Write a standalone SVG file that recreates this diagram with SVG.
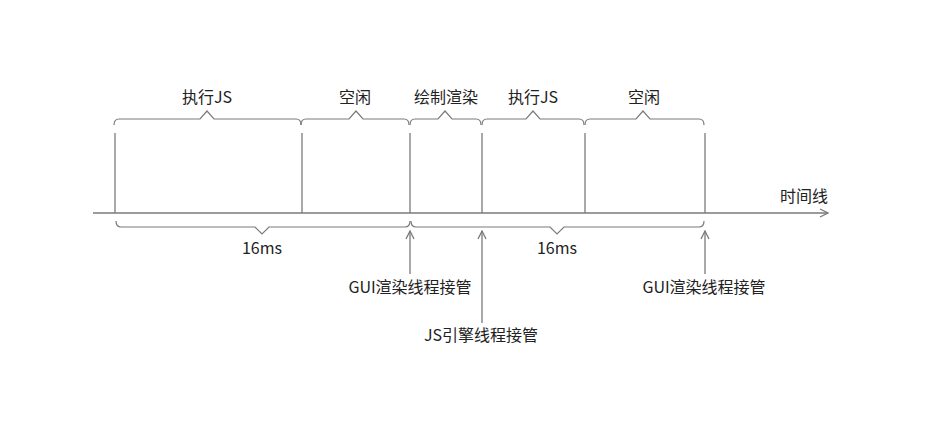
<svg xmlns="http://www.w3.org/2000/svg" width="942" height="421" viewBox="0 0 942 421">
<defs>
<style>
.ln{stroke:#7a7a7a;stroke-width:1.3;fill:none}
.br{stroke:#7a7a7a;stroke-width:1.2;fill:none}
.t{font-family:"Microsoft YaHei","Noto Sans CJK SC","Noto Sans",sans-serif;font-size:16px;fill:#222;text-anchor:middle}
</style>
<marker id="ah" viewBox="0 0 10 10" refX="9" refY="5" markerWidth="10" markerHeight="10" markerUnits="userSpaceOnUse" orient="auto">
<path d="M1,1 L9,5 L1,9" fill="none" stroke="#7a7a7a" stroke-width="1.3"/>
</marker>
</defs>
<rect width="942" height="421" fill="#fff"/>
<g id="connectors">
<line class="ln" x1="93" y1="213" x2="828" y2="213" marker-end="url(#ah)"/>
<line class="ln" x1="115" y1="133" x2="115" y2="213"/>
<line class="ln" x1="302" y1="133" x2="302" y2="213"/>
<line class="ln" x1="410" y1="133" x2="410" y2="213"/>
<line class="ln" x1="482" y1="133" x2="482" y2="213"/>
<line class="ln" x1="585" y1="133" x2="585" y2="213"/>
<line class="ln" x1="705" y1="133" x2="705" y2="213"/>
<line class="ln" x1="410" y1="274" x2="410" y2="231" marker-end="url(#ah)"/>
<line class="ln" x1="482" y1="323" x2="482" y2="231" marker-end="url(#ah)"/>
<line class="ln" x1="705" y1="274" x2="705" y2="231" marker-end="url(#ah)"/>
</g>
<g id="brace-top-1"><path class="br" d="M114,125 Q114,119 119,119 L200,119 L207,111 L214,119 L296,119 Q301,119 301,125"/><text class="t" x="207" y="103">执行JS</text></g>
<g id="brace-top-2"><path class="br" d="M301,125 Q301,119 306,119 L349,119 L356,111 L363,119 L404,119 Q409,119 409,125"/><text class="t" x="355" y="103">空闲</text></g>
<g id="brace-top-3"><path class="br" d="M410,125 Q410,119 415,119 L438,119 L445,111 L452,119 L476,119 Q481,119 481,125"/><text class="t" x="446" y="103">绘制渲染</text></g>
<g id="brace-top-4"><path class="br" d="M482,125 Q482,119 487,119 L526,119 L533,111 L540,119 L579,119 Q584,119 584,125"/><text class="t" x="533" y="103">执行JS</text></g>
<g id="brace-top-5"><path class="br" d="M585,125 Q585,119 590,119 L636,119 L643,111 L650,119 L699,119 Q704,119 704,125"/><text class="t" x="644" y="103">空闲</text></g>
<g id="brace-bottom-1"><path class="br" d="M116,221 Q116,227 121,227 L255,227 L262,234 L269,227 L405,227 Q410,227 410,221"/><text class="t" x="262" y="254">16ms</text></g>
<g id="brace-bottom-2"><path class="br" d="M411,221 Q411,227 416,227 L550,227 L557,234 L564,227 L699,227 Q704,227 704,221"/><text class="t" x="557" y="254">16ms</text></g>
<g id="label-timeline"><text class="t" x="804" y="202">时间线</text></g>
<g id="label-gui-1"><text class="t" x="410" y="293">GUI渲染线程接管</text></g>
<g id="label-js"><text class="t" x="481" y="341">JS引擎线程接管</text></g>
<g id="label-gui-2"><text class="t" x="704" y="293">GUI渲染线程接管</text></g>
</svg>
